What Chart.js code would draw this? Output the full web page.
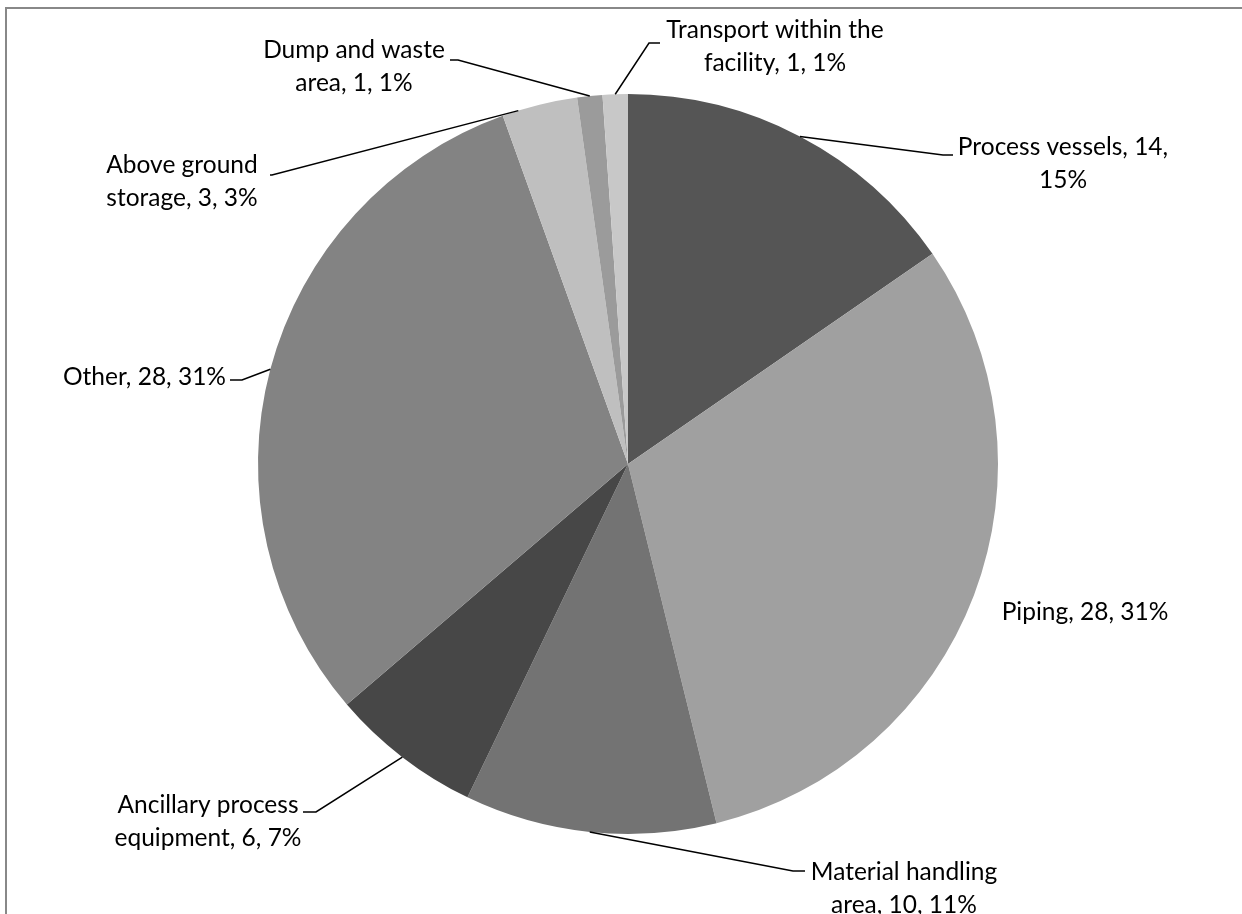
<!DOCTYPE html>
<html lang="en">
<head>
    <meta charset="UTF-8">
    <title>Incidents by equipment type</title>
    <style>
        body {
            margin: 0;
            padding: 0;
            background: #fff;
        }

        #wrap {
            position: relative;
            width: 1242px;
            height: 914px;
            overflow: hidden;
        }

        /* frame of the chart area, only top and left edges show */
        #frame {
            position: absolute;
            left: 5px;
            top: 7px;
            right: -10px;
            bottom: -10px;
            border-top: 2px solid #888;
            border-left: 2px solid #888;
        }

        canvas {
            position: absolute;
            left: 0;
            top: 0;
        }
    </style>
</head>
<body>
    <div id="wrap">
        <div id="frame"></div>
        <canvas id="pieChart" width="1242" height="914"></canvas>
    </div>

    <script src="https://cdn.jsdelivr.net/npm/chart.js"></script>
    <script>
// data
const categories = [
    'Process vessels',
    'Piping',
    'Material handling area',
    'Ancillary process equipment',
    'Other',
    'Above ground storage',
    'Dump and waste area',
    'Transport within the facility'
];
const counts = [14, 28, 10, 6, 28, 3, 1, 1];
const sliceColors = ['#555555', '#a0a0a0', '#737373', '#474747', '#838383', '#bfbfbf', '#9b9b9b', '#c8c8c8'];

// label text lines (as shown on the chart)
const labelLines = [
    ['Process vessels, 14,', '15%'],
    ['Piping, 28, 31%'],
    ['Material handling', 'area, 10, 11%'],
    ['Ancillary process', 'equipment, 6, 7%'],
    ['Other, 28, 31%'],
    ['Above ground', 'storage, 3, 3%'],
    ['Dump and waste', 'area, 1, 1%'],
    ['Transport within the', 'facility, 1, 1%']
];

// where each label sits and how its leader line bends (layout only)
const labelLayout = [
    { x: 1063, y: 147, align: 'center', elbow: [943, 155], end: [953, 155] },
    { x: 1085, y: 612, align: 'center' },
    { x: 904, y: 872, align: 'center', elbow: [793, 871], end: [805, 871] },
    { x: 208, y: 805, align: 'center', elbow: [316, 812], end: [303, 812] },
    { x: 226, y: 377, align: 'right', elbow: [242, 380], end: [230, 380] },
    { x: 182, y: 165, align: 'center', elbow: [272, 175], end: [270, 175], shift: -3.4 },
    { x: 354, y: 50, align: 'center', elbow: [458, 60], end: [450, 60] },
    { x: 775, y: 30, align: 'center', elbow: [649, 43], end: [660, 43] }
];

const calloutPlugin = {
    id: 'callouts',
    afterDraw(chart) {
        const ctx = chart.ctx;
        const arcs = chart.getDatasetMeta(0).data;
        ctx.save();
        ctx.strokeStyle = '#000';
        ctx.lineWidth = 1.5;
        ctx.fillStyle = '#000';
        ctx.font = '24.5px Lato, "Liberation Sans", sans-serif';
        ctx.textBaseline = 'middle';

        arcs.forEach((arc, i) => {
            const lay = labelLayout[i];
            if (lay.elbow) {
                const mid = (arc.startAngle + arc.endAngle) / 2 + (lay.shift || 0) * Math.PI / 180;
                const ax = arc.x + Math.cos(mid) * arc.outerRadius;
                const ay = arc.y + Math.sin(mid) * arc.outerRadius;
                ctx.beginPath();
                ctx.moveTo(ax, ay);
                ctx.lineTo(lay.elbow[0], lay.elbow[1]);
                ctx.lineTo(lay.end[0], lay.end[1]);
                ctx.stroke();
            }
            ctx.textAlign = lay.align;
            labelLines[i].forEach((line, k) => {
                ctx.fillText(line, lay.x, lay.y + k * 33);
            });
        });
        ctx.restore();
    }
};

const ctx = document.getElementById('pieChart').getContext('2d');
const pieChart = new Chart(ctx, {
    type: 'pie',
    data: {
        labels: categories,
        datasets: [{
            data: counts,
            backgroundColor: sliceColors,
            borderWidth: 0
        }]
    },
    options: {
        responsive: false,
        animation: false,
        layout: {
            padding: { left: 258, right: 244, top: 94, bottom: 80 }
        },
        plugins: {
            legend: { display: false },
            tooltip: { enabled: false }
        }
    },
    plugins: [calloutPlugin]
});
    </script>
</body>
</html>
